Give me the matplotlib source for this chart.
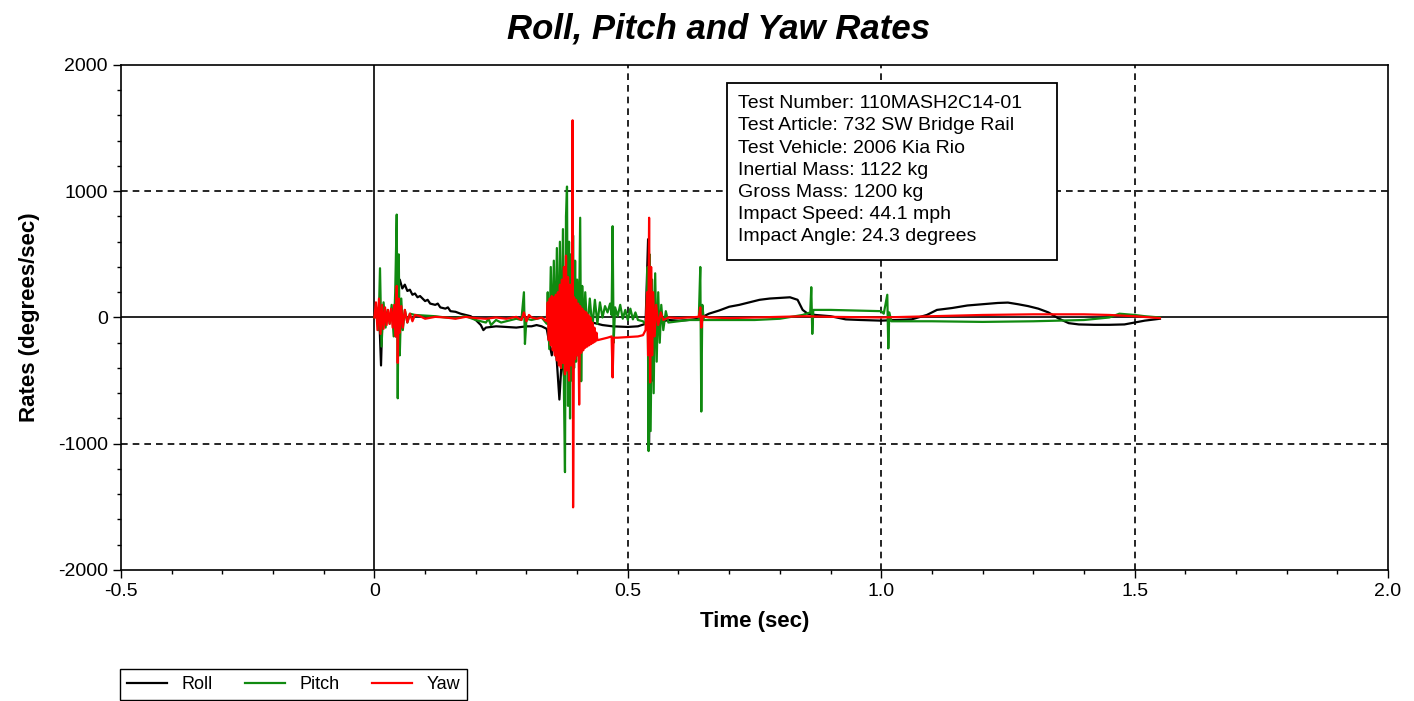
import matplotlib
matplotlib.use("Agg")
import matplotlib.pyplot as plt
from matplotlib.patches import Rectangle
from matplotlib.ticker import MultipleLocator

plt.rcParams['font.family'] = ['Liberation Sans', 'DejaVu Sans']
plt.rcParams['axes.unicode_minus'] = False

# ---- data ----
roll_t = [0, 0.005, 0.01, 0.013, 0.016, 0.02, 0.025, 0.03, 0.035, 0.04, 0.042, 0.045,
          0.048, 0.05, 0.055, 0.06, 0.065, 0.07, 0.075, 0.08, 0.085, 0.09, 0.1, 0.105,
          0.11, 0.12, 0.125, 0.13, 0.14, 0.145, 0.15, 0.16, 0.17, 0.18, 0.19, 0.2, 0.21,
          0.215, 0.22, 0.24, 0.26, 0.28, 0.3, 0.31, 0.32, 0.33, 0.34, 0.345, 0.35, 0.355,
          0.36, 0.365, 0.37, 0.375, 0.38, 0.385, 0.39, 0.395, 0.4, 0.41, 0.42, 0.43, 0.45,
          0.47, 0.5, 0.52, 0.535, 0.54, 0.542, 0.545, 0.548, 0.55, 0.555, 0.56, 0.57,
          0.58, 0.6, 0.62, 0.64, 0.66, 0.68, 0.7, 0.72, 0.74, 0.76, 0.78, 0.8, 0.82,
          0.835, 0.845, 0.855, 0.87, 0.9, 0.93, 0.96, 1.0, 1.03, 1.06, 1.09, 1.11, 1.14,
          1.17, 1.2, 1.23, 1.25, 1.27, 1.29, 1.31, 1.33, 1.35, 1.37, 1.39, 1.42, 1.45,
          1.48, 1.5, 1.52, 1.54, 1.55]
roll_v = [0, 20, -40, -380, 60, -30, 40, -20, 30, 80, -150, 350,
          250, 300, 230, 260, 210, 220, 180, 190, 160, 170, 130, 140,
          110, 100, 110, 80, 70, 80, 50, 45, 30, 20, 10, -20, -60,
          -100, -80, -70, -75, -80, -70, -70, -60, -70, -90, -200, -300, -150,
          -350, -650, -300, -500, -200, -400, -100, -250, -80, -60, -30, -40, -60,
          -70, -75, -70, -50, 620, -1000, 300, -500, 100, -200, -40, -30,
          -20, -25, -20, -10, 30, 55, 85, 100, 120, 140, 150, 155, 160,
          140, 60, 30, 20, 10, -15, -20, -25, -20, -15, 20, 60, 75,
          95, 105, 115, 118, 105, 90, 70, 40, -8, -45, -55, -58, -58,
          -55, -40, -25, -15, -10]

pitch_t = [0, 0.004, 0.008, 0.011, 0.014, 0.018, 0.022, 0.026, 0.03, 0.034, 0.038, 0.041,
           0.044, 0.046, 0.048, 0.05, 0.053, 0.056, 0.06, 0.065, 0.07, 0.08, 0.1, 0.12,
           0.14, 0.16, 0.18, 0.2, 0.22, 0.225, 0.23, 0.24, 0.25, 0.26, 0.27, 0.28, 0.29,
           0.295, 0.297, 0.3, 0.31, 0.32, 0.33, 0.34,
           0.342, 0.345, 0.348, 0.351, 0.354, 0.357, 0.36, 0.363, 0.366, 0.369, 0.372,
           0.374, 0.376, 0.378, 0.38, 0.382, 0.384, 0.386, 0.388, 0.39, 0.392, 0.394,
           0.396, 0.398, 0.4, 0.403, 0.406, 0.408, 0.41, 0.413, 0.416, 0.42, 0.425, 0.43,
           0.435, 0.44, 0.445, 0.45, 0.455, 0.46, 0.465, 0.468, 0.47, 0.472, 0.475, 0.48,
           0.485, 0.49, 0.495, 0.5, 0.505, 0.51, 0.515, 0.52, 0.53, 0.536, 0.539, 0.541,
           0.543, 0.545, 0.548, 0.551, 0.554, 0.557, 0.56, 0.563, 0.566, 0.57, 0.575,
           0.58, 0.6, 0.62, 0.64, 0.643, 0.645, 0.647, 0.65, 0.7, 0.75, 0.8, 0.83, 0.845,
           0.86, 0.862, 0.864, 0.866, 0.9, 0.95, 1.0, 1.005, 1.012, 1.014, 1.016, 1.02,
           1.1, 1.2, 1.3, 1.4, 1.45, 1.47, 1.5, 1.52, 1.55]
pitch_v = [0, 80, -100, 390, -230, 120, -80, 60, -50, 100, -150, 200,
           815, -640, 500, -300, 150, -100, 60, -40, 30, 20, 15, 10,
           0, -5, 10, -20, -40, -10, -60, -20, -40, -30, -20, -10, -20,
           200, -210, -10, -20, -10, 0, -50,
           200, -250, 400, -200, 450, -300, 550, -350, 600, -400, 700,
           -600, -1225, 800, 1037, -700, 600, -800, 500, -500, 650, -400,
           450, -350, 300, -250, 790, -505, 250, -150, 200, -100, 150, -80,
           140, -50, 120, 0, 90, 40, 110, 20, 723, -200, 80, 10,
           100, -10, 60, -20, 70, -15, 40, -20, -30, -60, 400, -1058,
           500, -900, 300, -600, 350, -350, 200, -200, 100, -100, 50,
           -40, -30, -20, -20, 400, -745, 100, -20, -20, -20, -10, 10, 20,
           40, 240, -130, 60, 60, 55, 50, 30, 180, -245, 40, -30,
           -30, -35, -30, -20, 0, 30, 20, 10, 0]

yaw_t = [0, 0.003, 0.006, 0.009, 0.012, 0.015, 0.018, 0.021, 0.024, 0.027, 0.03, 0.033,
         0.036, 0.039, 0.042, 0.044, 0.046, 0.048, 0.05, 0.053, 0.056, 0.06, 0.065, 0.07,
         0.075, 0.08, 0.09, 0.1, 0.12, 0.14, 0.16, 0.18, 0.2, 0.22, 0.24, 0.26, 0.28,
         0.29, 0.295, 0.3, 0.305, 0.31, 0.32, 0.33,
         0.340, 0.342, 0.344, 0.346, 0.348, 0.350, 0.352, 0.354, 0.356, 0.358, 0.360,
         0.362, 0.364, 0.366, 0.368, 0.370, 0.372, 0.374, 0.376, 0.378, 0.380, 0.382,
         0.384, 0.386, 0.388, 0.390, 0.391, 0.392, 0.394, 0.396, 0.398, 0.400, 0.402,
         0.404, 0.406, 0.408, 0.410, 0.412, 0.414, 0.416, 0.418, 0.420, 0.422, 0.424,
         0.426, 0.428, 0.430, 0.432, 0.434, 0.436, 0.438, 0.440,
         0.45, 0.46, 0.468, 0.47, 0.472, 0.48, 0.5, 0.52, 0.53, 0.535, 0.538, 0.54,
         0.542, 0.544, 0.546, 0.548, 0.55, 0.553, 0.556, 0.56, 0.565, 0.57, 0.58, 0.6,
         0.62, 0.64, 0.643, 0.645, 0.648, 0.66, 0.7, 0.75, 0.8, 0.85, 0.9, 1.0, 1.1,
         1.2, 1.3, 1.4, 1.45, 1.5, 1.55]
yaw_v = [0, 120, -100, 150, -130, 100, -90, 80, -60, 60, -50, 70,
         -80, 100, -150, 250, -360, 150, -120, 90, -80, 60, -40, 30,
         -30, 20, 10, -10, 5, 0, -10, 5, -5, -10, 0, -10, 5,
         -20, 40, -30, 20, 0, -10, 0,
         -30, 120, -180, 150, -220, 170, -260, 160, -300, 180, -340,
         200, -380, 260, -400, 300, -360, 400, -450, 490, -420, 320,
         -500, 260, -380, 220, 1562, -1504, 160, -330, 140, -300, 110,
         -690, 90, -280, 70, -260, 50, -240, 40, -230, 20, -220,
         0, -210, -40, -200, -80, -190, -120, -180,
         -170, -160, -150, -475, -160, -160, -155, -150, -140, -100, 200, -300,
         790, -515, 400, -300, 200, -150, 100, -60, 40, -20, 0, -5,
         0, 5, 80, -80, 10, 0, -5, 0, 5, 10, 5, 0, 10,
         20, 25, 25, 20, 10, -5]

info_lines = ["Test Number: 110MASH2C14-01",
              "Test Article: 732 SW Bridge Rail",
              "Test Vehicle: 2006 Kia Rio",
              "Inertial Mass: 1122 kg",
              "Gross Mass: 1200 kg",
              "Impact Speed: 44.1 mph",
              "Impact Angle: 24.3 degrees"]

x_ticks = [-0.5, 0, 0.5, 1.0, 1.5, 2.0]
x_labels = ["-0.5", "0", "0.5", "1.0", "1.5", "2.0"]
y_ticks = [-2000, -1000, 0, 1000, 2000]

# ---- figure ----
fig = plt.figure(figsize=(14.14, 7.01), dpi=100)
ax = fig.add_axes([0.0856, 0.1869, 0.896, 0.7204])

# reference lines
for x in (0.5, 1.0, 1.5):
    ax.axvline(x, color='black', lw=1.2, ls=(0, (4, 3)), zorder=1)
for y in (-1000, 1000):
    ax.axhline(y, color='black', lw=1.2, ls=(0, (4, 3)), zorder=1)
ax.axvline(0, color='black', lw=1.2, zorder=1)
ax.axhline(0, color='black', lw=1.2, zorder=1)

ax.plot(roll_t, roll_v, color='black', lw=1.6, label='Roll', zorder=2)
ax.plot(pitch_t, pitch_v, color='#108a10', lw=1.6, label='Pitch', zorder=3)
ax.plot(yaw_t, yaw_v, color='#ff0000', lw=1.6, label='Yaw', zorder=4)

ax.set_xlim(-0.5, 2.0)
ax.set_ylim(-2000, 2000)
ax.set_xticks(x_ticks)
ax.set_xticklabels(x_labels)
ax.set_yticks(y_ticks)
ax.xaxis.set_minor_locator(MultipleLocator(0.1))
ax.yaxis.set_minor_locator(MultipleLocator(200))
ax.tick_params(which='major', direction='out', length=6, width=1, labelsize=14)
ax.tick_params(which='minor', direction='out', length=3, width=1)
for s in ax.spines.values():
    s.set_linewidth(1.2)

ax.set_xlabel("Time (sec)", fontsize=16, fontweight='bold', labelpad=8)
ax.set_ylabel("Rates (degrees/sec)", fontsize=16, fontweight='bold')
ax.yaxis.set_label_coords(-0.064, 0.5)
fig.suptitle("Roll, Pitch and Yaw Rates", x=0.508, y=0.982, fontsize=25,
             fontweight='bold', fontstyle='italic')

# info box
ax.add_patch(Rectangle((0.4783, 0.6139), 0.2605, 0.3505, transform=ax.transAxes,
                       fc='white', ec='black', lw=1.3, zorder=5))
ax.text(0.487, 0.94, "\n".join(info_lines), transform=ax.transAxes,
        va='top', ha='left', fontsize=14, linespacing=1.4, zorder=6)

fig.legend(loc='upper left', bbox_to_anchor=(0.085, 0.046), ncol=3,
           fontsize=13, frameon=True, fancybox=False, edgecolor='black',
           framealpha=1, handlelength=2.2, columnspacing=1.8,
           borderaxespad=0)

fig.savefig("out.png", dpi=100)
